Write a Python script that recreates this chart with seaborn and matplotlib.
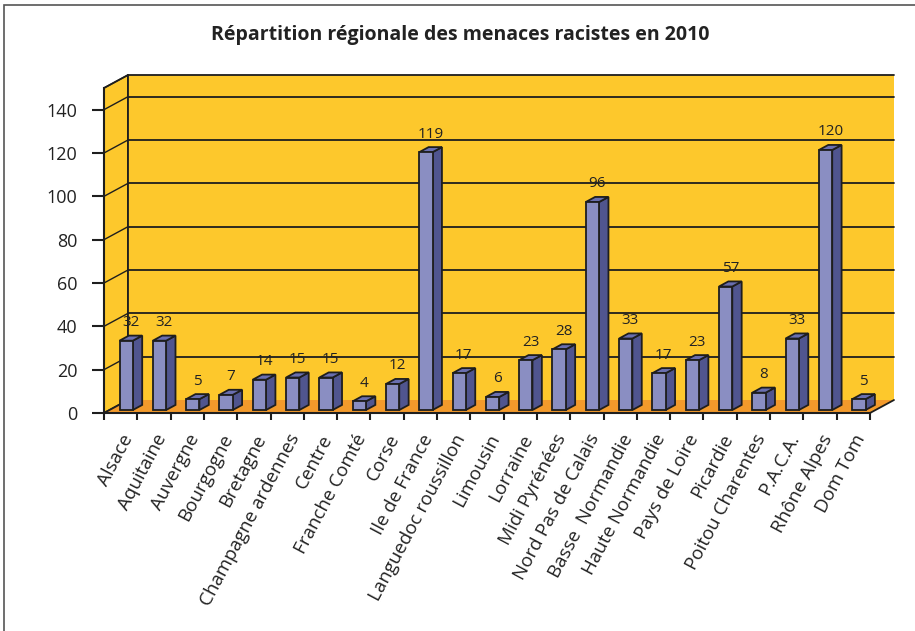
import numpy as np
import matplotlib
matplotlib.use("Agg")
import matplotlib.pyplot as plt
import seaborn as sns
from matplotlib.patches import Polygon, Rectangle

# Data
regions = ["Alsace", "Aquitaine", "Auvergne", "Bourgogne", "Bretagne",
           "Champagne ardennes", "Centre", "Franche Comté", "Corse",
           "Ile de France", "Languedoc roussillon", "Limousin", "Lorraine",
           "Midi Pyrénées", "Nord Pas de Calais", "Basse  Normandie",
           "Haute Normandie", "Pays de Loire", "Picardie", "Poitou Charentes",
           "P.A.C.A.", "Rhône Alpes", "Dom Tom"]
threats = [32, 32, 5, 7, 14, 15, 15, 4, 12, 119, 17, 6, 23, 28, 96, 33,
           17, 23, 57, 8, 33, 120, 5]
y_ticks = [0, 20, 40, 60, 80, 100, 120, 140]
title = "Répartition régionale des menaces racistes en 2010"

# colours
WALL = "#FDC82C"
FLOOR = "#F39A2B"
FRONT = "#8A8EC2"
SIDE = "#50558F"
TOP = "#6A6FB0"
EDGE = "#1e1e1e"

sns.set_theme(style="white")
plt.rcParams['font.family'] = ['Open Sans', 'DejaVu Sans']

W, H = 915, 631
fig = plt.figure(figsize=(W / 100, H / 100), dpi=100)
# front plane of the 3d box: x 104..870 px, y 413..88 px
ax = fig.add_axes([104 / W, (H - 413) / H, 766 / W, 325 / H])

n = len(regions)
ymax = 150

# depth offset of the back wall (24 px right, 13 px up) in data units
px_x = 766 / n
px_y = 325 / ymax
DX = 24 / px_x
DY = 13 / px_y

# bars front face from seaborn, then pushed back a bit into the box
z0, z1 = 0.23, 0.62
bw = 0.4
sns.barplot(x=regions, y=threats, color=FRONT, saturation=1, width=bw,
            edgecolor=EDGE, linewidth=1.3, ax=ax, zorder=5)
bars = list(ax.patches)
ax.set_xlim(-0.5, n - 0.5)
ax.set_ylim(0, ymax)

# walls and floor
x0, x1 = -0.5, n - 0.5
side = Polygon([(x0, 0), (x0 + DX, DY), (x0 + DX, ymax + DY), (x0, ymax)],
               closed=True, facecolor=WALL, edgecolor=EDGE, lw=1.3,
               clip_on=False, zorder=0)
ax.add_patch(side)
back = Rectangle((x0 + DX, DY), n, ymax, facecolor=WALL, edgecolor='none',
                 clip_on=False, zorder=0)
ax.add_patch(back)
floor = Polygon([(x0, 0), (x1, 0), (x1 + DX, DY), (x0 + DX, DY)],
                closed=True, facecolor=FLOOR, edgecolor='none',
                clip_on=False, zorder=1)
ax.add_patch(floor)
ax.plot([x1, x1 + DX], [0, DY], color=EDGE, lw=1.3, clip_on=False, zorder=2)
ax.plot([x0, x0 + DX], [0, DY], color=EDGE, lw=1.3, clip_on=False, zorder=2)
ax.plot([x0 + DX, x0 + DX], [DY, ymax + DY], color=EDGE, lw=1.3,
        clip_on=False, zorder=1)
for v in y_ticks[1:] + [ymax]:
    ax.plot([x0 + DX, x1 + DX], [v + DY, v + DY], color=EDGE, lw=1.3,
            clip_on=False, zorder=1)
    ax.plot([x0, x0 + DX], [v, v + DY], color=EDGE, lw=1.0,
            clip_on=False, zorder=1)

# 3d sides, tops and value labels
for i, (p, v) in enumerate(zip(bars, threats)):
    xl = i - bw / 2 + DX * z0
    xr = xl + bw
    yb = DY * z0
    yt = v + DY * z0
    p.set_x(xl)
    p.set_y(yb)
    p.set_clip_on(False)
    ddx = DX * (z1 - z0)
    ddy = DY * (z1 - z0)
    ax.add_patch(Polygon([(xr, yb), (xr + ddx, yb + ddy), (xr + ddx, yt + ddy), (xr, yt)],
                         closed=True, facecolor=SIDE, edgecolor=EDGE, lw=1.3,
                         clip_on=False, zorder=4))
    ax.add_patch(Polygon([(xl, yt), (xr, yt), (xr + ddx, yt + ddy), (xl + ddx, yt + ddy)],
                         closed=True, facecolor=TOP, edgecolor=EDGE, lw=1.3,
                         clip_on=False, zorder=4))
    ax.annotate(str(v), xy=(i + DX * z0 + ddx / 2, yt), xytext=(0, 10.5),
                textcoords='offset points', ha='center', va='baseline',
                fontsize=11, color='#222222', zorder=6, annotation_clip=False)

# axes, ticks
for s in ['top', 'right']:
    ax.spines[s].set_visible(False)
for s in ['left', 'bottom']:
    ax.spines[s].set_color(EDGE)
    ax.spines[s].set_linewidth(1.5)
    ax.spines[s].set_zorder(3)

ax.set_yticks(y_ticks)
ax.tick_params(axis='y', direction='out', length=8.5, width=1.5, color=EDGE,
               pad=10.5, labelsize=13, labelcolor='#222222', left=True)
ax.set_xticks(np.arange(n))
ax.set_xticklabels(regions)
ax.set_xticks(np.arange(n + 1) - 0.5, minor=True)
ax.tick_params(axis='x', which='major', length=0, pad=13, labelsize=13.5,
               labelcolor='#222222')
ax.tick_params(axis='x', which='minor', direction='out', length=5, width=1.5,
               color=EDGE, bottom=True)
plt.setp(ax.get_xticklabels(), rotation=62, ha='right', va='top',
         rotation_mode='anchor')
ax.set_xlabel("")
ax.set_ylabel("")
ax.patch.set_alpha(0)

fig.text(460 / W, 1 - 35 / H, title, ha='center', va='center',
         fontsize=14, fontweight='bold', color='#222222')
fig.patches.append(Rectangle((4 / W, -0.2), 2, 1.2 - 5 / H, fill=False,
                             edgecolor='#555555', lw=1.2,
                             transform=fig.transFigure, figure=fig))

fig.savefig("out.png", dpi=100)
